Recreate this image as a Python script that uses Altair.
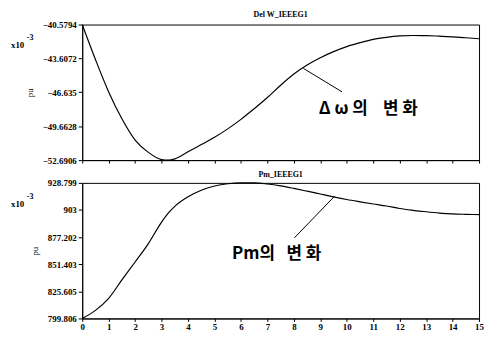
import altair as alt
import pandas as pd

# time axis (s)
t = [0, 0.5, 1, 1.5, 2, 2.5, 3, 3.25, 3.5, 4, 4.5, 5, 5.5, 6, 6.5, 7, 7.5, 8,
     8.5, 9, 9.5, 10, 10.5, 11, 11.5, 12, 12.5, 13, 13.5, 14, 14.5, 15]

# Del W_IEEEG1 (x10^-3 pu)
dw = [-40.58, -43.70, -46.60, -49.00, -50.90, -52.00, -52.64, -52.69, -52.58,
      -51.95, -51.30, -50.65, -49.90, -49.05, -48.10, -47.10, -46.00, -45.00,
      -44.20, -43.55, -43.00, -42.55, -42.20, -41.90, -41.72, -41.60, -41.56,
      -41.57, -41.62, -41.68, -41.76, -41.85]

# Pm_IEEEG1 (x10^-3 pu)
pm = [799.81, 807.5, 819.0, 836.5, 853.5, 871.0, 891.5, 900.0, 906.5, 915.5,
      921.8, 925.8, 928.0, 928.8, 928.79, 927.7, 925.9, 923.5, 920.9, 918.2,
      915.5, 913.0, 910.8, 908.7, 906.8, 904.4, 902.7, 901.3, 900.1, 899.3,
      898.9, 898.6]

dw_ticks = [-40.5794, -43.6072, -46.635, -49.6628, -52.6906]
pm_ticks = [928.799, 903.0, 877.202, 851.403, 825.605, 799.806]
x_ticks = list(range(16))

dw_title = "Del W_IEEEG1"
pm_title = "Pm_IEEEG1"

dw_note_text = "Δ\u00a0ω\u00a0의\u00a0\u00a0\u00a0\u00a0변\u00a0화"
dw_note_pos = [10.81, -48.16]
dw_leader_t = [8.36, 9.82]
dw_leader_v = [-44.50, -46.59]

pm_note_text = "Pm의\u00a0\u00a0\u00a0변\u00a0화"
pm_note_pos = [7.35, 861.5]
pm_leader_t = [9.52, 8.02]
pm_leader_v = [915.6, 876.5]

SERIF = "Liberation Serif"


def panel(values, ticks, title, leader_t, leader_v, note_pos, note_text,
          show_x_labels, title_offset):
    df = pd.DataFrame({"t": t, "v": values})
    xscale = alt.Scale(domain=[0, 15], nice=False, zero=False)
    yscale = alt.Scale(domain=[min(ticks), max(ticks)], nice=False, zero=False)
    xaxis = alt.Axis(values=x_ticks, labels=show_x_labels, title=None,
                     grid=False, tickSize=3, format="d", labelFont=SERIF,
                     labelFontSize=9, labelFontWeight="bold",
                     labelOverlap=False, labelFlush=False, labelPadding=1,
                     labelColor="black", domainColor="black", tickColor="black")
    yaxis = alt.Axis(values=ticks, format=".6~", title="pu", grid=False,
                     tickSize=4, labelPadding=2, labelFont=SERIF,
                     labelFontSize=9, labelFontWeight="bold",
                     labelColor="black", titleFont=SERIF,
                     labelOverlap=False, labelFlush=False,
                     titleFontSize=9, titleFontWeight="normal",
                     titleColor="black", titlePadding=8,
                     domainColor="black", tickColor="black")
    X = alt.X("t:Q", scale=xscale, axis=xaxis)
    Y = alt.Y("v:Q", scale=yscale, axis=yaxis)
    line = alt.Chart(df).mark_line(color="black", strokeWidth=1.2,
                                   interpolate="monotone").encode(x=X, y=Y)
    leader = alt.Chart(pd.DataFrame({"t": leader_t, "v": leader_v})).mark_line(
        color="black", strokeWidth=1).encode(x=X, y=Y)
    note = alt.Chart(pd.DataFrame({"t": [note_pos[0]], "v": [note_pos[1]],
                                   "s": [note_text]})).mark_text(
        font="Noto Sans CJK KR", fontSize=17, fontWeight="bold",
        color="black").encode(x=X, y=Y, text="s:N")
    x10 = alt.Chart(pd.DataFrame({"a": [0]})).mark_text(
        text="x10", font=SERIF, fontSize=9, fontWeight="bold", color="black",
        align="left", baseline="middle").encode(
        x=alt.value(-72), y=alt.value(21))
    exp = alt.Chart(pd.DataFrame({"a": [0]})).mark_text(
        text="-3", font=SERIF, fontSize=8, fontWeight="bold", color="black",
        align="left", baseline="middle").encode(
        x=alt.value(-56), y=alt.value(14))
    return alt.layer(line, leader, note, x10, exp).properties(
        width=401, height=137,
        title=alt.TitleParams(title, fontSize=8, font=SERIF,
                              fontWeight="bold", color="black",
                              offset=title_offset),
    )


top = panel(dw, dw_ticks, dw_title, dw_leader_t, dw_leader_v, dw_note_pos,
            dw_note_text, False, 2)
bottom = panel(pm, pm_ticks, pm_title, pm_leader_t, pm_leader_v, pm_note_pos,
               pm_note_text, True, 0)

chart = alt.vconcat(top, bottom, spacing=4).properties(
    padding={"left": 2, "top": 0, "right": 0, "bottom": 0},
    background="white",
).configure_view(stroke="black", strokeWidth=1).configure_axis(
    labelOverlap=False)

chart.save("out.html", embed_options={"renderer": "svg", "actions": False})
